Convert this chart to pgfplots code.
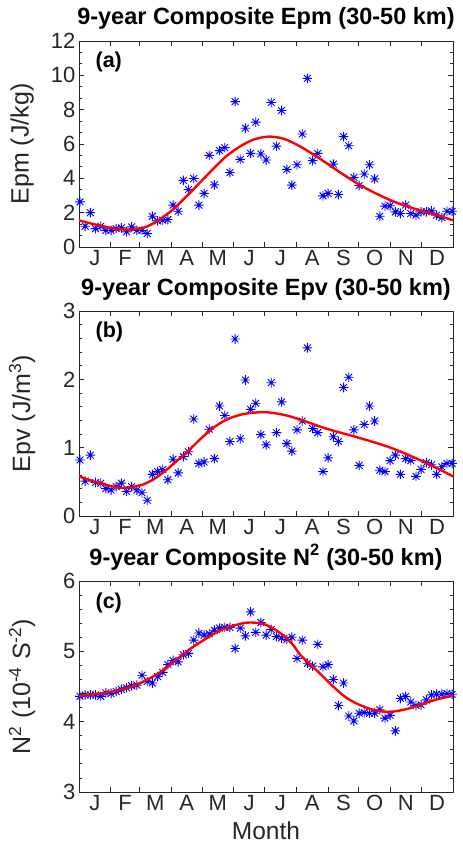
\documentclass[border=0pt]{standalone}
\usepackage{fontspec}
\setmainfont{Liberation Sans}
\usepackage{pgfplots}
\pgfplotsset{compat=1.18}
\usepackage{pgfplotstable}

\pgfdeclareplotmark{mstar}{%
  \pgfpathmoveto{\pgfqpoint{-\pgfplotmarksize}{0pt}}\pgfpathlineto{\pgfqpoint{\pgfplotmarksize}{0pt}}%
  \pgfpathmoveto{\pgfqpoint{0pt}{-\pgfplotmarksize}}\pgfpathlineto{\pgfqpoint{0pt}{\pgfplotmarksize}}%
  \pgfpathmoveto{\pgfqpoint{-0.7071\pgfplotmarksize}{-0.7071\pgfplotmarksize}}\pgfpathlineto{\pgfqpoint{0.7071\pgfplotmarksize}{0.7071\pgfplotmarksize}}%
  \pgfpathmoveto{\pgfqpoint{-0.7071\pgfplotmarksize}{0.7071\pgfplotmarksize}}\pgfpathlineto{\pgfqpoint{0.7071\pgfplotmarksize}{-0.7071\pgfplotmarksize}}%
  \pgfusepathqstroke}

\pgfplotstableread{
x epm epv n2
1.0 2.63 0.82 4.36
6.0 1.21 0.51 4.38
11.1 2.00 0.89 4.38
16.1 1.07 0.49 4.38
21.2 1.21 0.48 4.36
26.2 0.97 0.40 4.41
31.3 0.97 0.38 4.40
36.3 1.07 0.43 4.43
41.4 1.11 0.48 4.46
46.4 0.88 0.36 4.48
51.4 1.17 0.43 4.51
56.5 0.97 0.38 4.52
61.5 0.97 0.34 4.66
66.6 0.78 0.23 4.57
71.6 1.79 0.61 4.55
76.7 1.52 0.65 4.64
81.7 1.56 0.68 4.70
86.7 1.60 0.53 4.81
91.8 2.44 0.83 4.87
96.8 2.08 0.63 4.85
101.9 3.88 0.87 4.95
106.9 3.35 0.94 4.97
112.0 3.99 1.42 5.16
117.0 2.44 0.77 5.26
122.1 3.12 0.79 5.23
127.1 5.34 1.27 5.25
132.1 3.62 0.84 5.30
137.2 5.61 1.61 5.33
142.2 5.79 1.47 5.34
147.3 4.34 1.09 5.34
152.3 8.47 2.59 5.04
157.4 5.10 1.13 5.33
162.4 6.92 1.99 5.22
167.5 5.45 1.56 5.56
172.5 7.27 1.65 5.27
177.5 5.42 1.19 5.41
182.6 5.07 1.04 5.23
187.6 8.42 1.95 5.31
192.7 5.88 1.22 5.21
197.7 7.95 1.67 5.19
202.8 4.52 1.06 5.17
207.8 3.60 0.95 5.20
212.8 4.79 1.26 4.90
217.9 6.58 1.39 5.16
222.9 9.82 2.46 4.83
228.0 5.03 1.28 4.79
233.0 5.45 1.22 5.10
238.1 2.98 0.65 4.78
243.1 3.12 0.85 4.81
248.2 4.83 1.16 4.60
253.2 3.06 1.09 4.23
258.2 6.43 1.88 4.55
263.3 5.90 2.03 4.08
268.3 4.05 1.26 4.01
273.4 3.58 0.74 4.12
278.4 4.25 1.34 4.13
283.5 4.79 1.61 4.12
288.5 3.97 1.39 4.12
293.6 1.79 0.67 4.17
298.6 2.38 0.65 4.05
303.6 2.40 0.81 4.09
308.7 2.05 0.89 3.87
313.7 1.95 0.61 4.33
318.8 2.44 0.84 4.36
323.8 1.95 0.81 4.28
328.9 1.85 0.58 4.23
333.9 2.05 0.68 4.24
339.0 2.05 0.78 4.31
344.0 2.10 0.75 4.38
349.0 1.85 0.61 4.39
354.1 1.71 0.72 4.39
359.1 2.08 0.77 4.40
364.2 2.08 0.77 4.39
}\data

\pgfplotstableread{
x y
0 1.55
20 1.25
40 1.03
53 1.03
66 1.18
79 1.62
92 2.20
105 2.95
118 3.75
131 4.55
144 5.30
157 5.85
170 6.25
185 6.43
200 6.30
216 5.85
235 5.15
248 4.62
261 4.10
274 3.62
287 3.20
307 2.65
330 2.18
346 1.92
365 1.55
}\fitA

\pgfplotstableread{
x y
0 0.58
20 0.48
42 0.41
60 0.45
72 0.53
85 0.67
95 0.80
105 0.93
118 1.12
131 1.29
144 1.41
160 1.49
181 1.52
200 1.48
216 1.41
239 1.29
255 1.22
272 1.15
304 1.00
337 0.79
365 0.58
}\fitB

\pgfplotstableread{
x y
0 4.37
20 4.40
40 4.45
60 4.55
79 4.70
95 4.88
110 5.05
124 5.18
138 5.30
157 5.39
168 5.41
180 5.39
190 5.32
200 5.22
209 5.09
216 4.95
229 4.77
239 4.63
248 4.50
260 4.35
272 4.25
287 4.17
303 4.14
320 4.18
337 4.26
350 4.32
365 4.37
}\fitC

\pgfplotsset{
 myax/.style={
  scale only axis, width=374pt, xmin=0, xmax=365,
  anchor=south west,
  xtick={0,31,59,90,120,151,181,212,243,273,304,334,365},
  xticklabels={},
  extra x ticks={15.5,45,74.5,105,135.5,166,196.5,227.5,258,288.5,319,349.5},
  extra x tick labels={J,F,M,A,M,J,J,A,S,O,N,D},
  extra x tick style={major tick length=0pt},
  tick align=inside,
  major tick length=5pt, minor tick length=3pt,
  axis line style={black!85, line width=0.8pt},
  every tick/.style={black!85, line width=0.8pt},
  tick label style={font=\fontsize{22}{22}\selectfont, text=black!85},
  /pgf/number format/assume math mode=true,
  title style={font=\bfseries\fontsize{23.5}{23.5}\selectfont, at={(axis description cs:0.5,1)}, anchor=base, yshift=10pt},
  every axis y label/.style={at={(axis description cs:-0.152,0.5)}, rotate=90, anchor=center, font=\fontsize{25}{25}\selectfont, text=black!85},
  every axis x label/.style={at={(axis description cs:0.5,0)}, anchor=base, yshift=-47pt, inner sep=0pt, font=\fontsize{24.5}{24.5}\selectfont, text=black!85},
  clip mode=individual,
 },
 stars/.style={only marks, mark=mstar, mark size=4.8pt, mark options={draw=blue, line width=0.9pt}},
 fit/.style={red, line width=2.4pt, smooth, no marks},
}

\begin{document}
\begin{tikzpicture}
% (a)
\begin{axis}[myax, at={(79pt,597pt)}, height=206pt,
  ymin=0, ymax=12, ytick={0,2,4,6,8,10,12}, minor y tick num=2,
  title={9-year Composite Epm (30-50 km)}, ylabel={Epm (J/kg)}]
\addplot[stars] table[x=x, y=epm] {\data};
\addplot[fit] table[x=x, y=y] {\fitA};
\node[anchor=west, font=\bfseries\fontsize{21.5}{21.5}\selectfont] at (rel axis cs:0.035,0.898) {(a)};
\end{axis}
% (b)
\begin{axis}[myax, at={(79pt,328pt)}, height=205pt,
  ymin=0, ymax=3, ytick={0,1,2,3}, minor y tick num=4,
  title={9-year Composite Epv (30-50 km)}, ylabel={Epv (J/m\textsuperscript{3})}]
\addplot[stars] table[x=x, y=epv] {\data};
\addplot[fit] table[x=x, y=y] {\fitB};
\node[anchor=west, font=\bfseries\fontsize{21.5}{21.5}\selectfont] at (rel axis cs:0.035,0.898) {(b)};
\end{axis}
% (c)
\begin{axis}[myax, at={(79pt,52pt)}, height=211pt,
  ymin=3, ymax=6, ytick={3,4,5,6}, minor y tick num=4,
  title={9-year Composite N\textsuperscript{2} (30-50 km)},
  ylabel={N\textsuperscript{2} (10\textsuperscript{-4} S\textsuperscript{-2})},
  xlabel={Month}]
\addplot[stars] table[x=x, y=n2] {\data};
\addplot[fit] table[x=x, y=y] {\fitC};
\node[anchor=west, font=\bfseries\fontsize{21.5}{21.5}\selectfont] at (rel axis cs:0.035,0.898) {(c)};
\end{axis}
\pgfresetboundingbox
\path (0pt,0pt) rectangle (463pt,844pt);
\end{tikzpicture}
\end{document}
